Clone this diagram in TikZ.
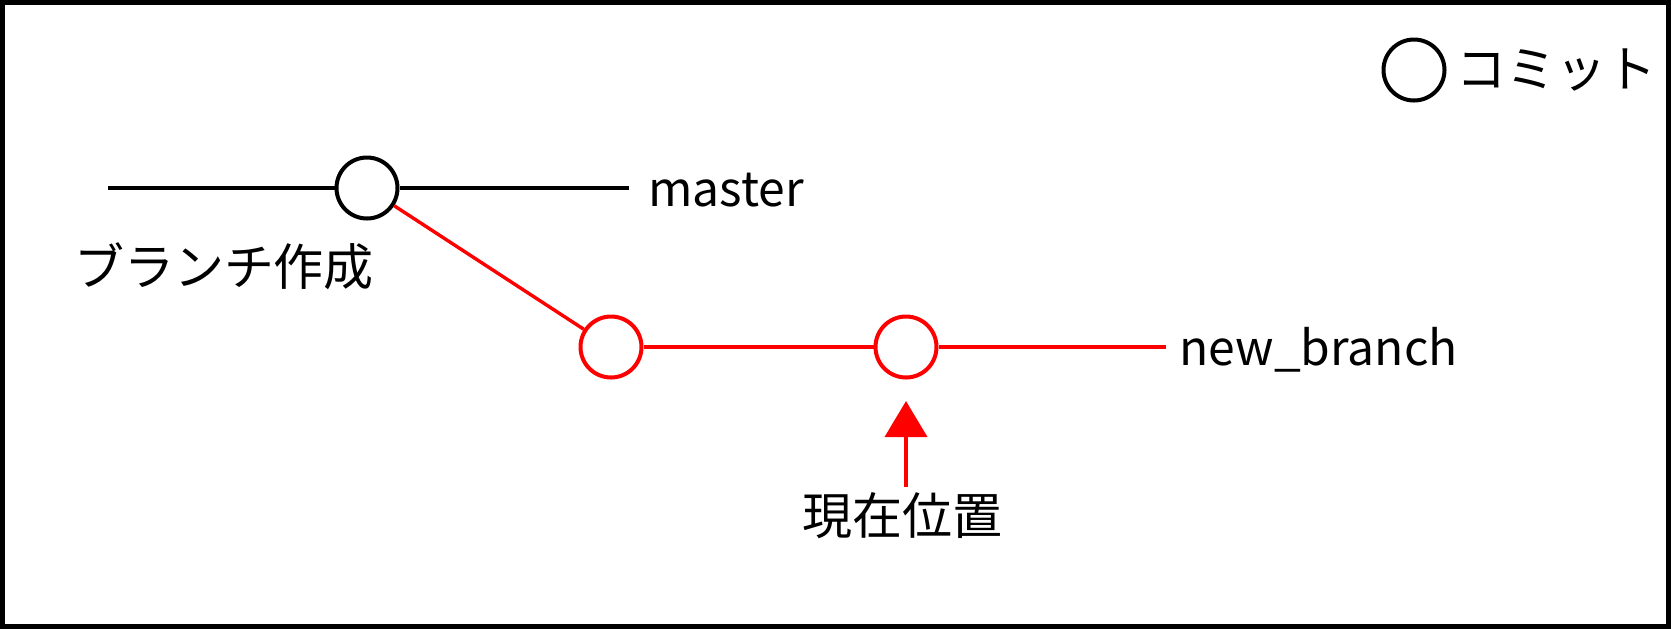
\documentclass[tikz,border=0pt]{standalone}
\usepackage{fontspec}
\setmainfont{Noto Sans CJK JP}
\usetikzlibrary{positioning, arrows.meta}

\tikzset{
	commit/.style={circle, draw, fill=white, line width=2pt, minimum size=30.5pt, inner sep=0pt},
	redcommit/.style={commit, draw=red},
	mainline/.style={line width=2pt},
	branchline/.style={line width=1.7pt, red},
	pointer/.style={line width=2pt, red, -{Triangle[width=21pt, length=18pt]}, shorten >=10.75pt},
	tagtext/.style={inner sep=0pt, font=\fontsize{25}{30}\selectfont},
	reftext/.style={tagtext, font=\fontsize{24}{29}\selectfont},
}

\begin{document}
\begin{tikzpicture}[x=0.5pt, y=-0.5pt]
	\def\ym{188}
	\def\yb{347}
	\useasboundingbox (0,0) rectangle (1671,629);
	% frame
	\draw[line width=2.5pt] (2.5,2.5) rectangle (1668.5,626.5);

	% master
	\coordinate (m0) at (108,\ym);
	\node[commit] (m1) at (367,\ym) {};
	\coordinate (m2) at (629,\ym);
	\draw[mainline] (m0) -- (m1);
	\draw[mainline] (m1) -- (m2);
	\node[reftext, anchor=base west] (mname) at (648,206) {master};
	\node[tagtext] (split) at (224,266) {ブランチ作成};

	% new_branch
	\node[redcommit] (b1) at (611,\yb) {};
	\node[redcommit] (b2) at (906,\yb) {};
	\coordinate (b3) at (1166,\yb);
	\draw[branchline] (m1) -- (b1);
	\draw[branchline] (b1) -- (b2);
	\draw[branchline] (b2) -- (b3);
	\node[reftext, anchor=base west] (bname) at (1179,365) {new\_branch};

	% HEAD
	\node[tagtext] (head) at (902,516) {現在位置};
	\coordinate (tail) at (906,487);
	\draw[pointer] (tail) -- (b2);

	% legend
	\node[commit] (key) at (1414,70) {};
	\node[tagtext, right=5pt of key] (keytext) {コミット};
\end{tikzpicture}
\end{document}
